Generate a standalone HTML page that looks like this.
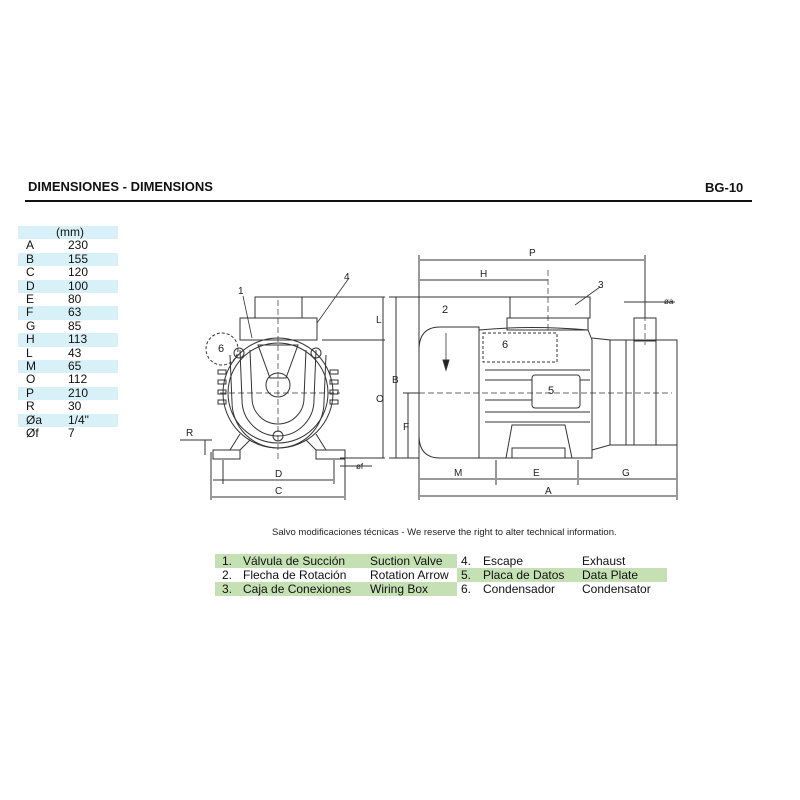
<!DOCTYPE html>
<html><head><meta charset="utf-8"><style>
body{margin:0;background:#fff;width:800px;height:800px;overflow:hidden;position:relative;font-family:"Liberation Sans",Arial,sans-serif;color:#111}
.a{position:absolute;white-space:nowrap}
.t{position:absolute;left:18px;width:100px;height:13.4px;font-size:12px;line-height:13.4px}
.s{background:#d8f1f8}
.t b{font-weight:normal;position:absolute;left:8px}
.t i{font-style:normal;position:absolute;left:50px}
.r{position:absolute;height:14px;font-size:12px;line-height:14px}
.g{background:#c5e0b3}
</style></head><body>
<div class="a" style="left:28px;top:179px;font-size:13px;font-weight:bold">DIMENSIONES - DIMENSIONS</div>
<div class="a" style="left:705px;top:180px;font-size:13px;font-weight:bold">BG-10</div>
<div class="a" style="left:25px;top:200px;width:727px;height:2px;background:#111"></div>

<div class="t s" style="top:226px"><i style="left:38px">(mm)</i></div>
<div class="t" style="top:239.4px"><b>A</b><i>230</i></div>
<div class="t s" style="top:252.8px"><b>B</b><i>155</i></div>
<div class="t" style="top:266.2px"><b>C</b><i>120</i></div>
<div class="t s" style="top:279.6px"><b>D</b><i>100</i></div>
<div class="t" style="top:293px"><b>E</b><i>80</i></div>
<div class="t s" style="top:306.4px"><b>F</b><i>63</i></div>
<div class="t" style="top:319.8px"><b>G</b><i>85</i></div>
<div class="t s" style="top:333.2px"><b>H</b><i>113</i></div>
<div class="t" style="top:346.6px"><b>L</b><i>43</i></div>
<div class="t s" style="top:360px"><b>M</b><i>65</i></div>
<div class="t" style="top:373.4px"><b>O</b><i>112</i></div>
<div class="t s" style="top:386.8px"><b>P</b><i>210</i></div>
<div class="t" style="top:400.2px"><b>R</b><i>30</i></div>
<div class="t s" style="top:413.6px"><b>Øa</b><i>1/4"</i></div>
<div class="t" style="top:427px"><b>Øf</b><i>7</i></div>

<svg class="a" style="left:0;top:0" width="800" height="800" viewBox="0 0 800 800" fill="none" stroke="#333" stroke-width="1" font-family="Liberation Sans,Arial,sans-serif" font-size="10">
<!-- front view -->
<rect x="255" y="297" width="47" height="21"/>
<rect x="240" y="318" width="77" height="22"/>
<circle cx="278" cy="393" r="55"/>
<circle cx="278" cy="393" r="50"/>
<path d="M258 345 L298 345 L286 378 L270 378 Z"/>
<circle cx="278" cy="385" r="12"/>
<path d="M250 350 L252 398 A26 26 0 0 0 304 398 L306 350"/>
<path d="M240 350 L242 400 A36 36 0 0 0 314 400 L316 350"/>
<path d="M230 355 L232 402 A46 46 0 0 0 324 402 L326 355"/>
<rect x="218" y="370" width="8" height="4"/><rect x="218" y="380" width="8" height="4"/><rect x="218" y="390" width="8" height="4"/><rect x="218" y="400" width="8" height="4"/>
<rect x="330" y="370" width="8" height="4"/><rect x="330" y="380" width="8" height="4"/><rect x="330" y="390" width="8" height="4"/><rect x="330" y="400" width="8" height="4"/>
<circle cx="239" cy="353" r="5"/><circle cx="316" cy="353" r="5"/><circle cx="278" cy="436" r="5"/>
<path d="M240 434 L230 450 M250 440 L240 450 M316 434 L326 450 M306 440 L316 450"/>
<rect x="213" y="450" width="27" height="9"/><rect x="316" y="450" width="29" height="9"/>
<circle cx="222" cy="349" r="16" stroke-dasharray="3 2"/>
<text x="218" y="352" stroke="none" fill="#222" font-size="11">6</text>
<path d="M278 300 V460 M220 393 H340" stroke-dasharray="6 3" stroke-width=".7"/>
<!-- front dims -->
<path d="M211 452 V500 M345 452 V500 M223 460 V484 M334 460 V484 M205 440 V455"/>
<path d="M213 480 H333 M212 497 H344 M180 440 H212 M300 297 H385 M322 340 H385 M340 458 H385 M383 297 V458 M340 466 H372"/>
<text x="275" y="477" stroke="none" fill="#222">D</text><text x="275" y="494" stroke="none" fill="#222">C</text>
<text x="186" y="436" stroke="none" fill="#222">R</text><text x="356" y="469" stroke="none" fill="#222" font-size="8">øf</text>
<text x="376" y="323" stroke="none" fill="#222">L</text><text x="376" y="402" stroke="none" fill="#222">O</text>
<path d="M243 296 L252 338 M349 278 L317 323" stroke-width=".8"/>
<text x="238" y="294" stroke="none" fill="#222">1</text><text x="344" y="280" stroke="none" fill="#222">4</text>
<!-- side view -->
<path d="M440 327 H479 V458 H440 Q419 458 419 435 V350 Q419 327 440 327 Z"/>
<path d="M479 330 Q530 325 588 330 L592 340 V458 H479 Z"/>
<rect x="510" y="297" width="80" height="21"/><rect x="507" y="318" width="81" height="12"/>
<rect x="483" y="333" width="74" height="29" stroke-dasharray="3 2"/>
<text x="502" y="348" stroke="none" fill="#222" font-size="11">6</text>
<rect x="532" y="375" width="48" height="33" rx="3"/>
<text x="548" y="394" stroke="none" fill="#222" font-size="11">5</text>
<path d="M485 370 H590 M485 380 H532 M580 380 H590 M485 400 H532 M485 412 H590 M485 422 H590"/>
<path d="M506 458 L512 425 H565 L572 458 M512 458 V448 H565 V458"/>
<path d="M592 338 L610 340 V445 L592 450"/>
<rect x="610" y="340" width="67" height="105"/>
<path d="M626 340 V445 M634 340 V445 M656 340 V445"/>
<rect x="634" y="318" width="22" height="23"/>
<path d="M419 393 H672 M548 270 V330 M645 297 V345" stroke-dasharray="6 3" stroke-width=".7"/>
<path d="M446 333 V360" stroke-width=".8"/><path d="M443 360 H449 L446 370 Z" fill="#222"/>
<text x="442" y="313" stroke="none" fill="#222" font-size="11">2</text>
<path d="M600 287 L575 305" stroke-width=".8"/><text x="598" y="288" stroke="none" fill="#222">3</text>
<!-- side dims -->
<path d="M419 255 V500 M645 255 V318 M677 445 V500 M496 460 V485 M578 460 V485"/>
<path d="M420 260 H644 M420 280 H548 M389 297 H510 M396 297 V458 M389 458 H419 M403 393 H419 M408 393 V458 M420 479 H495 M497 479 H577 M579 479 H676 M420 496 H676 M624 302 H675"/>
<text x="529" y="256" stroke="none" fill="#222">P</text><text x="480" y="277" stroke="none" fill="#222">H</text>
<text x="392" y="383" stroke="none" fill="#222">B</text><text x="403" y="430" stroke="none" fill="#222">F</text>
<text x="454" y="476" stroke="none" fill="#222">M</text><text x="533" y="476" stroke="none" fill="#222">E</text>
<text x="622" y="476" stroke="none" fill="#222">G</text><text x="545" y="494" stroke="none" fill="#222">A</text>
<text x="664" y="304" stroke="none" fill="#222" font-size="8">øa</text>
</svg>

<div class="a" style="left:272px;top:527px;font-size:9.5px;color:#222">Salvo modificaciones técnicas - We reserve the right to alter technical information.</div>

<div class="r g" style="left:215px;top:554px;width:242px"></div>
<div class="r g" style="left:457px;top:568px;width:210px"></div>
<div class="r g" style="left:215px;top:582px;width:242px"></div>
<div class="r" style="left:222px;top:554px">1.</div><div class="r" style="left:243px;top:554px">Válvula de Succión</div><div class="r" style="left:370px;top:554px">Suction Valve</div>
<div class="r" style="left:461px;top:554px">4.</div><div class="r" style="left:483px;top:554px">Escape</div><div class="r" style="left:582px;top:554px">Exhaust</div>
<div class="r" style="left:222px;top:568px">2.</div><div class="r" style="left:243px;top:568px">Flecha de Rotación</div><div class="r" style="left:370px;top:568px">Rotation Arrow</div>
<div class="r" style="left:461px;top:568px">5.</div><div class="r" style="left:483px;top:568px">Placa de Datos</div><div class="r" style="left:582px;top:568px">Data Plate</div>
<div class="r" style="left:222px;top:582px">3.</div><div class="r" style="left:243px;top:582px">Caja de Conexiones</div><div class="r" style="left:370px;top:582px">Wiring Box</div>
<div class="r" style="left:461px;top:582px">6.</div><div class="r" style="left:483px;top:582px">Condensador</div><div class="r" style="left:582px;top:582px">Condensator</div>
</body></html>
